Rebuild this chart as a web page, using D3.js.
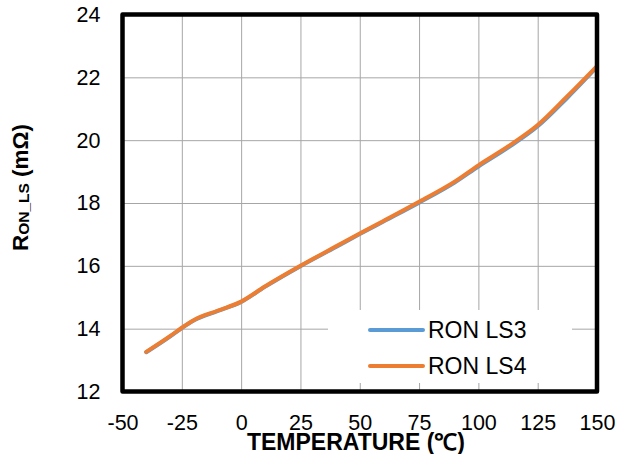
<!DOCTYPE html>
<html>
<head>
<meta charset="utf-8">
<script src="https://cdn.jsdelivr.net/npm/d3@7"></script>
<style>
  body { margin: 0; background: #fff; }
  text { font-family: "Liberation Sans", Arial, sans-serif; fill: #000; }
  .grid line { stroke: #a6a6a6; stroke-width: 1; }
  .grid .domain { display: none; }
</style>
</head>
<body>
<div id="chart"></div>
<script>
// Chart data
var temps = [-40, -30, -25, -20, -10, 0, 10, 25, 40, 50, 60, 75, 90, 100, 112.5, 125, 137.5, 150];
var ronLS3 = [13.25, 13.75, 14.02, 14.26, 14.56, 14.85, 15.33, 15.99, 16.60, 17.01, 17.41, 18.01, 18.65, 19.16, 19.76, 20.44, 21.35, 22.33];
var ronLS4 = [13.26, 13.76, 14.03, 14.27, 14.57, 14.86, 15.34, 16.00, 16.62, 17.03, 17.43, 18.04, 18.68, 19.20, 19.80, 20.48, 21.40, 22.36];
var xTicks = [-50, -25, 0, 25, 50, 75, 100, 125, 150];
var yTicks = [12, 14, 16, 18, 20, 22, 24];
var seriesNames = ["RON LS3", "RON LS4"];
var seriesColors = ["#5b9bd5", "#ed7d31"];

// SVG area dimensions
var svgWidth = 629;
var svgHeight = 454;

var margin = {
  top: 14.5,
  right: 32,
  bottom: 62.5,
  left: 122.5
};

var chartWidth = svgWidth - margin.left - margin.right;
var chartHeight = svgHeight - margin.top - margin.bottom;

var svg = d3.select("#chart")
  .append("svg")
  .attr("width", svgWidth)
  .attr("height", svgHeight);

var chartGroup = svg.append("g")
  .attr("transform", `translate(${margin.left}, ${margin.top})`);

// Scales
var xLinearScale = d3.scaleLinear()
  .domain([-50, 150])
  .range([0, chartWidth]);

var yLinearScale = d3.scaleLinear()
  .domain([12, 24])
  .range([chartHeight, 0]);

// Gridlines + tick labels (plain hyphen for negatives, like the original)
var bottomAxis = d3.axisBottom(xLinearScale)
  .tickValues(xTicks)
  .tickFormat(d => String(d))
  .tickSize(-chartHeight)
  .tickPadding(23);

var leftAxis = d3.axisLeft(yLinearScale)
  .tickValues(yTicks)
  .tickFormat(d => String(d))
  .tickSize(-chartWidth)
  .tickPadding(22);

chartGroup.append("g")
  .classed("grid", true)
  .attr("transform", `translate(0, ${chartHeight})`)
  .call(bottomAxis);

chartGroup.append("g")
  .classed("grid", true)
  .call(leftAxis);

chartGroup.selectAll(".grid text")
  .style("font-size", "21.5px")
  .style("font-family", "'Liberation Sans', Arial, sans-serif")
  .attr("fill", "#000");

// Legend background (hides the gridlines behind it)
var legendBox = { x: 328 - margin.left, y: 310 - margin.top, w: 244, h: 73 };
chartGroup.append("rect")
  .attr("x", legendBox.x)
  .attr("y", legendBox.y)
  .attr("width", legendBox.w)
  .attr("height", legendBox.h)
  .attr("fill", "#fff");

// Lines
var drawLine = d3.line()
  .x((d, i) => xLinearScale(temps[i]))
  .y(d => yLinearScale(d))
  .curve(d3.curveMonotoneX);

[ronLS3, ronLS4].forEach(function(series, i) {
  chartGroup.append("path")
    .attr("d", drawLine(series))
    .attr("fill", "none")
    .attr("stroke", seriesColors[i])
    .attr("stroke-width", 4)
    .attr("stroke-linecap", "round")
    .attr("stroke-linejoin", "round");
});

// Plot border
chartGroup.append("rect")
  .attr("x", 0)
  .attr("y", 0)
  .attr("width", chartWidth)
  .attr("height", chartHeight)
  .attr("fill", "none")
  .attr("stroke", "#000")
  .attr("stroke-width", 4.5)
  .attr("stroke-linejoin", "round");

// Legend entries
var legend = chartGroup.append("g")
  .attr("transform", `translate(${370 - margin.left}, ${330 - margin.top})`);

seriesNames.forEach(function(name, i) {
  var row = legend.append("g")
    .attr("transform", `translate(0, ${i * 36})`);
  row.append("line")
    .attr("x1", 0)
    .attr("x2", 53)
    .attr("stroke", seriesColors[i])
    .attr("stroke-width", 4)
    .attr("stroke-linecap", "round");
  row.append("text")
    .attr("x", 58)
    .attr("dy", "0.36em")
    .style("font-size", "23px")
    .text(name);
});

// Axis titles
svg.append("text")
  .attr("x", 356)
  .attr("y", 450)
  .attr("text-anchor", "middle")
  .style("font-size", "23px")
  .style("font-weight", "bold")
  .text("TEMPERATURE (\u2103)");

var yTitle = svg.append("text")
  .attr("transform", "translate(28, 187.5) rotate(-90)")
  .attr("text-anchor", "middle")
  .style("font-size", "22.5px")
  .style("font-weight", "bold");
yTitle.append("tspan").text("R");
yTitle.append("tspan").style("font-size", "15.5px").attr("dy", 1).text("ON_LS");
yTitle.append("tspan").attr("dy", -1).text(" (m\u03a9)");
</script>
</body>
</html>
